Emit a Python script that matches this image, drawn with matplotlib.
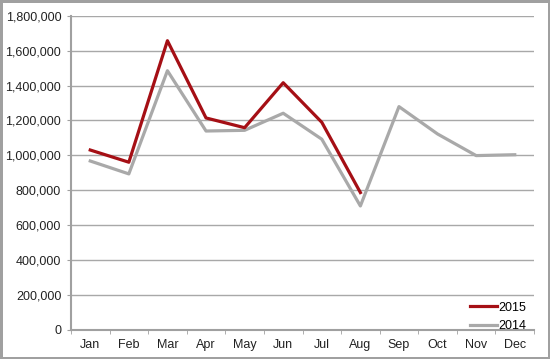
import matplotlib
matplotlib.use("Agg")
import matplotlib.pyplot as plt
from matplotlib.ticker import FuncFormatter, FixedLocator

plt.rcParams["font.family"] = ["Liberation Sans", "DejaVu Sans"]

months = ["Jan", "Feb", "Mar", "Apr", "May", "Jun",
          "Jul", "Aug", "Sep", "Oct", "Nov", "Dec"]
sales_2015 = [1030000, 960000, 1657000, 1214000, 1158000, 1416000,
              1189000, 786000]
sales_2014 = [967000, 893000, 1485000, 1139000, 1143000, 1241000,
              1092000, 709000, 1279000, 1122000, 998000, 1003000]

fig = plt.figure(figsize=(5.5, 3.59), dpi=100)
fig.patch.set_edgecolor("#a0a0a0")
fig.patch.set_linewidth(2.5)
ax = fig.add_axes([0.129, 0.082, 0.842, 0.874])

x14 = list(range(len(sales_2014)))
x15 = list(range(len(sales_2015)))
ax.plot(x15, sales_2015, color="#a50f15", lw=2.3, label="2015", zorder=3)
ax.plot(x14, sales_2014, color="#a9a9a9", lw=2.3, label="2014", zorder=2)

ax.set_xlim(-0.5, 11.5)
ax.set_ylim(0, 1800000)
ax.set_yticks(range(0, 1800001, 200000))
ax.yaxis.set_major_formatter(FuncFormatter(lambda v, p: f"{int(v):,}"))
ax.set_xticks(x14)
ax.set_xticklabels(months)
ax.xaxis.set_minor_locator(FixedLocator([i - 0.5 for i in range(13)]))
ax.tick_params(axis="x", which="major", length=0, pad=7)
ax.tick_params(axis="x", which="minor", length=3, color="#a0a0a0")
ax.tick_params(axis="y", length=3, color="#a0a0a0", pad=4)
ax.tick_params(labelsize=9, labelcolor="#222222")

ax.grid(True, axis="y", color="#a8a8a8", lw=1)
ax.set_axisbelow(True)
for s in ["top", "right"]:
    ax.spines[s].set_visible(False)
for s in ["left", "bottom"]:
    ax.spines[s].set_color("#a0a0a0")
    ax.spines[s].set_linewidth(1.5)

ax.legend(loc="lower right", frameon=False, fontsize=9, handlelength=2.2,
          handletextpad=0.1, labelspacing=0.55, borderaxespad=0.0,
          bbox_to_anchor=(0.995, -0.025))

fig.savefig("out.png", dpi=100)
